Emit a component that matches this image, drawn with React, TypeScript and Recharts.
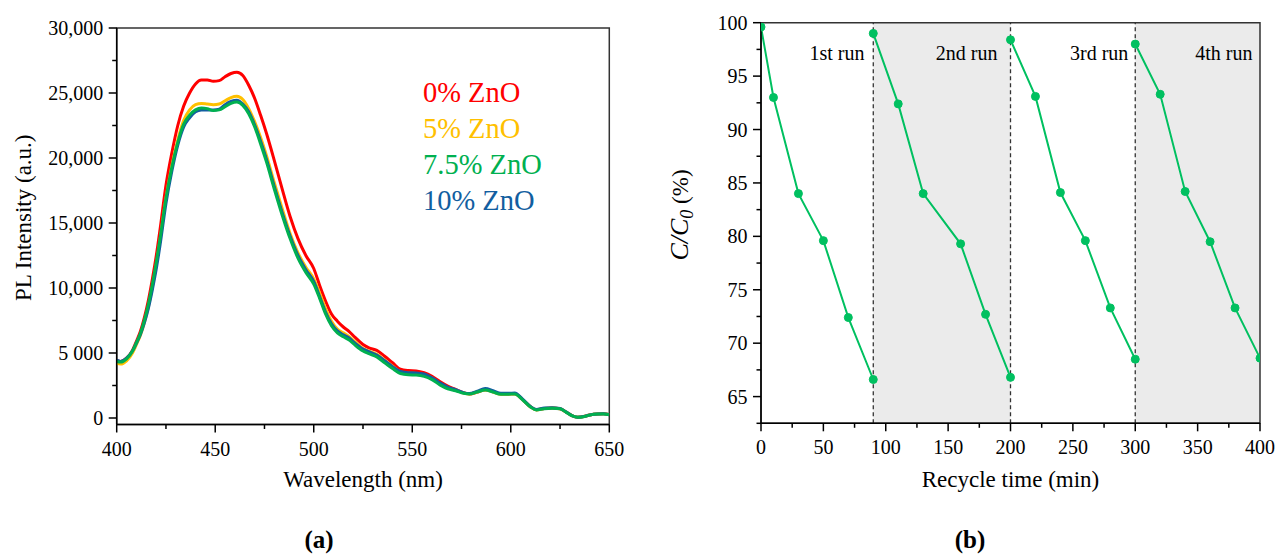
import React from 'react';
import {
  LineChart,
  Line,
  XAxis,
  YAxis,
  ReferenceArea,
  ReferenceLine,
  ReferenceDot,
  Legend,
  Label,
} from 'recharts';

// ---------------- Data: (a) PL spectra ----------------
const wavelengths = [
  400, 402, 405, 408, 410, 412, 414, 416, 418, 420,
  422, 425, 428, 431, 434, 437, 440, 443, 446, 449,
  452, 455, 458, 461, 464, 467, 470, 473, 476, 480,
  484, 488, 492, 496, 500, 503, 506, 509, 512, 515,
  518, 521, 525, 528, 532, 536, 540, 544, 548, 552,
  556, 560, 564, 568, 572, 576, 579, 583, 587, 591,
  595, 599, 602, 606, 610, 613, 617, 621, 625, 628,
  631, 634, 637, 640, 644, 647, 650,
];

const pl0 = [
  4400, 4350, 4600, 5200, 5900, 6650, 7700, 9000, 10600, 12400,
  14500, 17900, 20400, 22500, 24000, 25000, 25700, 26000, 26000, 25900,
  25950, 26250, 26500, 26600, 26350, 25600, 24600, 23300, 21900, 19800,
  17600, 15500, 13800, 12500, 11500, 10200, 9000, 8000, 7450, 7000,
  6650, 6200, 5650, 5400, 5200, 4750, 4250, 3750, 3650, 3620,
  3480, 3200, 2800, 2450, 2200, 1950, 1850, 2000, 2180, 2020,
  1840, 1850, 1870, 1420, 870, 640, 740, 760, 720, 460,
  190, 60, 110, 230, 310, 320, 260,
];

const pl5 = [
  4200, 4150, 4400, 5000, 5650, 6350, 7300, 8500, 10000, 11700,
  13700, 16900, 19400, 21400, 22900, 23700, 24100, 24200, 24150, 24100,
  24150, 24400, 24650, 24750, 24500, 23800, 22800, 21600, 20200, 18100,
  16100, 14200, 12700, 11600, 10700, 9600, 8400, 7450, 6850, 6550,
  6250, 5850, 5350, 5150, 4900, 4450, 3980, 3550, 3450, 3430,
  3320, 3070, 2650, 2330, 2150, 1920, 1840, 2000, 2160, 2000,
  1820, 1830, 1850, 1400, 850, 620, 730, 760, 720, 460,
  190, 60, 110, 230, 310, 320, 270,
];

const pl75 = [
  4350, 4300, 4550, 5150, 5800, 6500, 7500, 8700, 10200, 11900,
  13800, 16900, 19300, 21200, 22600, 23300, 23700, 23850, 23800, 23650,
  23700, 23950, 24200, 24300, 24050, 23400, 22400, 21100, 19700, 17600,
  15600, 13800, 12300, 11200, 10300, 9200, 8000, 7100, 6550, 6250,
  6000, 5600, 5150, 4950, 4700, 4250, 3800, 3420, 3320, 3300,
  3200, 2950, 2550, 2250, 2100, 1900, 1840, 2000, 2150, 2000,
  1820, 1830, 1850, 1400, 850, 620, 720, 750, 710, 450,
  180, 50, 100, 220, 300, 310, 250,
];

const pl10 = [
  4450, 4350, 4600, 5150, 5750, 6400, 7300, 8400, 9800, 11400,
  13300, 16500, 19000, 21000, 22400, 23100, 23550, 23700, 23700, 23700,
  23750, 24100, 24350, 24450, 24150, 23550, 22550, 21300, 19900, 17800,
  15800, 14000, 12500, 11400, 10500, 9350, 8150, 7250, 6700, 6400,
  6150, 5750, 5300, 5100, 4850, 4400, 3950, 3580, 3480, 3470,
  3380, 3100, 2700, 2380, 2180, 1950, 1880, 2060, 2260, 2100,
  1900, 1900, 1920, 1450, 880, 650, 760, 780, 730, 470,
  190, 60, 110, 230, 310, 320, 270,
];

const plSeriesNames = ['0% ZnO', '5% ZnO', '7.5% ZnO', '10% ZnO'];
const plSeriesKeys = ['zno0', 'zno5', 'zno75', 'zno10'];
const plSeriesValues = [pl0, pl5, pl75, pl10];
const plSeriesColors = ['#FF0000', '#FFC000', '#00B050', '#125EA0'];
// drawing order (last on top)
const plDrawOrder = [0, 1, 3, 2];

const plXTicks = [400, 425, 450, 475, 500, 525, 550, 575, 600, 625, 650];
const plXMajor = [400, 450, 500, 550, 600, 650];
const plYTicks = [0, 2500, 5000, 7500, 10000, 12500, 15000, 17500, 20000, 22500, 25000, 27500, 30000];
const plYLabels: Record<number, string> = {
  0: '0',
  5000: '5 000',
  10000: '10,000',
  15000: '15,000',
  20000: '20,000',
  25000: '25,000',
  30000: '30,000',
};

const plData = wavelengths.map((w, i) => {
  const row: Record<string, number> = { wl: w };
  plSeriesKeys.forEach((k, s) => {
    row[k] = plSeriesValues[s][i];
  });
  return row;
});

// ---------------- Data: (b) recycle runs ----------------
const run1Time = [0, 10, 30, 50, 70, 90];
const run1Ratio = [99.6, 93.0, 84.0, 79.6, 72.4, 66.6];
const run2Time = [90, 110, 130, 160, 180, 200];
const run2Ratio = [99.0, 92.4, 84.0, 79.3, 72.7, 66.8];
const run3Time = [200, 220, 240, 260, 280, 300];
const run3Ratio = [98.4, 93.1, 84.1, 79.6, 73.3, 68.5];
const run4Time = [300, 320, 340, 360, 380, 400];
const run4Ratio = [98.0, 93.3, 84.2, 79.5, 73.3, 68.6];

const runTimes = [run1Time, run2Time, run3Time, run4Time];
const runRatios = [run1Ratio, run2Ratio, run3Ratio, run4Ratio];
const runLabels = ['1st run', '2nd run', '3rd run', '4th run'];
const runLabelAnchorTime = [83, 189.5, 294.5, 394];
const runLabelAnchorRatio = 97.2;
const runBoundaries = [90, 200, 300];
const shadedRanges = [
  [90, 200],
  [300, 400],
];

const recXTicks = [0, 25, 50, 75, 100, 125, 150, 175, 200, 225, 250, 275, 300, 325, 350, 375, 400];
const recXMajor = [0, 50, 100, 150, 200, 250, 300, 350, 400];
const recYTicks = [62.5, 65, 67.5, 70, 72.5, 75, 77.5, 80, 82.5, 85, 87.5, 90, 92.5, 95, 97.5, 100];
const recYMajor = [65, 70, 75, 80, 85, 90, 95, 100];

const runData = runTimes.map((ts, r) => ts.map((t, i) => ({ t, ratio: runRatios[r][i] })));

// ---------------- Styling ----------------
const FONT = '"Liberation Serif", "Times New Roman", serif';
const TICK_FONT = 20;
const TITLE_FONT = 23;
const REC_GREEN = '#00C060';

const makeYTick = (majors: number[], fmt: (v: number) => string) => (props: any) => {
  const { x, y, payload } = props;
  const v = payload.value;
  const major = majors.indexOf(v) >= 0;
  return (
    <g>
      <line x1={x} x2={x - (major ? 8 : 4.5)} y1={y} y2={y} stroke="#000" strokeWidth={1.5} />
      {major && (
        <text x={x - 13.5} y={y} dy={7} textAnchor="end" fontFamily={FONT} fontSize={TICK_FONT} fill="#000">
          {fmt(v)}
        </text>
      )}
    </g>
  );
};

const makeXTick = (majors: number[]) => (props: any) => {
  const { x, y, payload } = props;
  const v = payload.value;
  const major = majors.indexOf(v) >= 0;
  return (
    <g>
      <line x1={x} x2={x} y1={y} y2={y + (major ? 8 : 4.5)} stroke="#000" strokeWidth={1.5} />
      {major && (
        <text x={x} y={y + 31} textAnchor="middle" fontFamily={FONT} fontSize={TICK_FONT} fill="#000">
          {String(v)}
        </text>
      )}
    </g>
  );
};

const PlYTick = makeYTick([0, 5000, 10000, 15000, 20000, 25000, 30000], (v) => plYLabels[v]);
const PlXTick = makeXTick(plXMajor);
const RecYTick = makeYTick(recYMajor, (v) => String(v));
const RecXTick = makeXTick(recXMajor);

const renderPlLegend = (props: any) => {
  const items = [...(props.payload || [])].sort(
    (a: any, b: any) => plSeriesNames.indexOf(a.value) - plSeriesNames.indexOf(b.value)
  );
  return (
    <div style={{ fontFamily: FONT, fontSize: 28.5, lineHeight: '36px', whiteSpace: 'nowrap' }}>
      {items.map((it: any) => (
        <div key={it.value} style={{ color: it.color }}>
          {it.value}
        </div>
      ))}
    </div>
  );
};

function PLChart() {
  return (
    <LineChart
      width={640}
      height={554}
      data={plData}
      margin={{ top: 28, right: 30.7, bottom: 99.5, left: 56.7 }}
      style={{ fontFamily: FONT }}
    >
      <XAxis
        dataKey="wl"
        type="number"
        domain={[400, 650]}
        ticks={plXTicks}
        interval={0}
        tickSize={0}
        tickMargin={0}
        tickLine={false}
        tick={PlXTick}
        height={30}
        axisLine={{ stroke: '#000', strokeWidth: 1.5 }}
        allowDataOverflow
      >
        <Label
          content={(p: any) => {
            const vb = p.viewBox;
            return (
              <text
                x={vb.x + vb.width / 2}
                y={vb.y + 62}
                textAnchor="middle"
                fontFamily={FONT}
                fontSize={TITLE_FONT}
                fill="#000"
              >
                Wavelength (nm)
              </text>
            );
          }}
        />
      </XAxis>
      <YAxis
        type="number"
        domain={[-500, 30000]}
        ticks={plYTicks}
        interval={0}
        tickSize={0}
        tickMargin={0}
        tickLine={false}
        tick={PlYTick}
        width={60}
        axisLine={{ stroke: '#000', strokeWidth: 1.5 }}
        allowDataOverflow
      >
        <Label
          content={(p: any) => {
            const vb = p.viewBox;
            const cx = vb.x + vb.width - 94;
            const cy = vb.y + vb.height / 2 - 8.5;
            return (
              <text
                transform={`translate(${cx},${cy}) rotate(-90)`}
                textAnchor="middle"
                dy={8}
                fontFamily={FONT}
                fontSize={TITLE_FONT}
                fill="#000"
              >
                PL Intensity (a.u.)
              </text>
            );
          }}
        />
      </YAxis>
      <ReferenceArea x1={400} x2={650} y1={-500} y2={30000} fill="none" stroke="#333" strokeWidth={1.5} />
      {plDrawOrder.map((s) => (
        <Line
          key={plSeriesKeys[s]}
          dataKey={plSeriesKeys[s]}
          name={plSeriesNames[s]}
          stroke={plSeriesColors[s]}
          strokeWidth={3}
          type="monotone"
          dot={false}
          activeDot={false}
          isAnimationActive={false}
        />
      ))}
      <Legend
        layout="horizontal"
        verticalAlign="middle"
        align="center"
        content={renderPlLegend}
        wrapperStyle={{ left: 423, top: 74.6, width: 200, margin: 0, padding: 0 }}
      />
    </LineChart>
  );
}

function RecycleChart() {
  return (
    <LineChart
      width={637}
      height={554}
      margin={{ top: 22.7, right: 17, bottom: 100.7, left: 61 }}
      style={{ fontFamily: FONT }}
    >
      <XAxis
        dataKey="t"
        type="number"
        domain={[0, 400]}
        ticks={recXTicks}
        interval={0}
        tickSize={0}
        tickMargin={0}
        tickLine={false}
        tick={RecXTick}
        height={30}
        axisLine={{ stroke: '#000', strokeWidth: 1.5 }}
        allowDataOverflow
      >
        <Label
          content={(p: any) => {
            const vb = p.viewBox;
            return (
              <text
                x={vb.x + vb.width / 2}
                y={vb.y + 64}
                textAnchor="middle"
                fontFamily={FONT}
                fontSize={TITLE_FONT}
                fill="#000"
              >
                Recycle time (min)
              </text>
            );
          }}
        />
      </XAxis>
      <YAxis
        dataKey="ratio"
        type="number"
        domain={[62.5, 100]}
        ticks={recYTicks}
        interval={0}
        tickSize={0}
        tickMargin={0}
        tickLine={false}
        tick={RecYTick}
        width={60}
        axisLine={{ stroke: '#000', strokeWidth: 1.5 }}
        allowDataOverflow
      >
        <Label
          content={(p: any) => {
            const vb = p.viewBox;
            const cx = vb.x + vb.width - 81;
            const cy = vb.y + vb.height / 2 - 8;
            return (
              <text
                transform={`translate(${cx},${cy}) rotate(-90)`}
                textAnchor="middle"
                dy={8}
                fontFamily={FONT}
                fontSize={TITLE_FONT}
                fill="#000"
              >
                <tspan fontStyle="italic" fontSize={26}>C/C</tspan>
                <tspan fontStyle="italic" fontSize={18} dy={5}>0</tspan>
                <tspan dy={-5}> (%)</tspan>
              </text>
            );
          }}
        />
      </YAxis>
      {shadedRanges.map(([a, b]) => (
        <ReferenceArea
          key={`shade-${a}`}
          x1={a}
          x2={b}
          y1={62.5}
          y2={100}
          fill="#EBEBEB"
          fillOpacity={1}
          stroke="none"
        />
      ))}
      {runBoundaries.map((x) => (
        <ReferenceLine key={`bd-${x}`} x={x} stroke="#333" strokeWidth={1.3} strokeDasharray="4 3" />
      ))}
      <ReferenceArea x1={0} x2={400} y1={62.5} y2={100} fill="none" stroke="#333" strokeWidth={1.5} />
      {runLabels.map((lab, i) => (
        <ReferenceDot
          key={lab}
          x={runLabelAnchorTime[i]}
          y={runLabelAnchorRatio}
          r={0}
          shape={(p: any) => (
            <text
              x={p.cx}
              y={p.cy}
              dy={7}
              textAnchor="end"
              fontFamily={FONT}
              fontSize={20}
              fill="#000"
            >
              {lab}
            </text>
          )}
        />
      ))}
      {runData.map((d, i) => (
        <Line
          key={`run-${i}`}
          data={d}
          dataKey="ratio"
          name={runLabels[i]}
          stroke={REC_GREEN}
          strokeWidth={2}
          type="linear"
          dot={{ r: 4, fill: REC_GREEN, stroke: REC_GREEN, strokeWidth: 1 }}
          activeDot={false}
          isAnimationActive={false}
        />
      ))}
    </LineChart>
  );
}

export default function App() {
  return (
    <div
      style={{
        position: 'absolute',
        left: 0,
        top: 0,
        width: 1277,
        height: 554,
        background: '#fff',
        overflow: 'hidden',
      }}
    >
      <div style={{ position: 'absolute', left: 0, top: 0, width: 640, height: 554 }}>
        <PLChart />
      </div>
      <div style={{ position: 'absolute', left: 640, top: 0, width: 637, height: 554 }}>
        <RecycleChart />
      </div>
      <svg
        width={1277}
        height={554}
        style={{ position: 'absolute', left: 0, top: 0, pointerEvents: 'none' }}
      >
        <text x={319} y={548} textAnchor="middle" fontFamily={FONT} fontSize={25} fontWeight="bold" fill="#000">
          (a)
        </text>
        <text x={970} y={548} textAnchor="middle" fontFamily={FONT} fontSize={25} fontWeight="bold" fill="#000">
          (b)
        </text>
      </svg>
    </div>
  );
}
